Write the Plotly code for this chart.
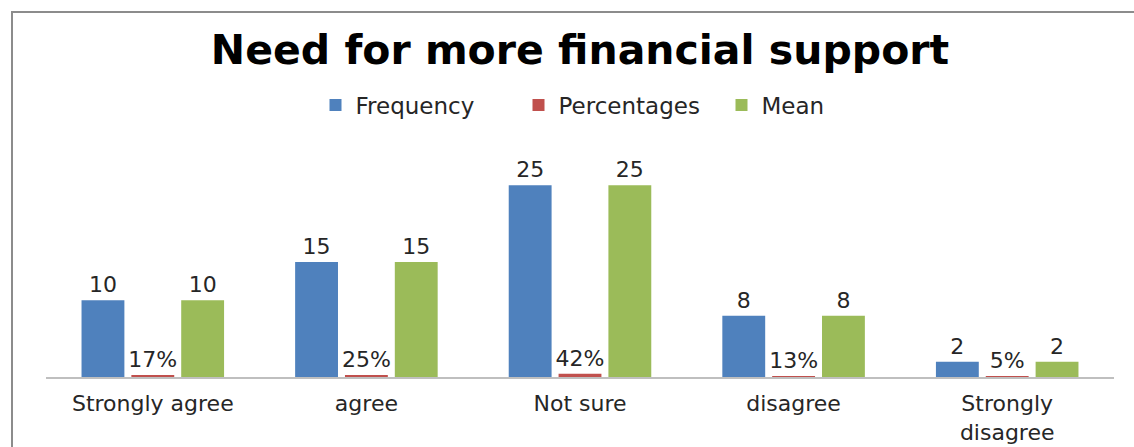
import plotly.graph_objects as go

categories = ["Strongly agree", "agree", "Not sure", "disagree", "Strongly<br>disagree"]
frequency = [10, 15, 25, 8, 2]
percentages = [0.17, 0.25, 0.42, 0.13, 0.05]
mean = [10, 15, 25, 8, 2]

FONT = "DejaVu Sans"
TEXT_COLOR = "#262626"

W, H = 1134, 447
ML, MR, MT, MB = 46, 20, 147, 70
PW = W - ML - MR
PH = H - MT - MB


def px_x(p):
    return (p - ML) / PW


def px_y(p):
    return (H - MB - p) / PH


fig = go.Figure()
fig.add_trace(go.Bar(
    name="Frequency", x=categories, y=frequency,
    marker=dict(color="#4F81BD"),
    text=frequency, texttemplate="%{y}", textposition="outside",
))
fig.add_trace(go.Bar(
    name="Percentages", x=categories, y=percentages,
    marker=dict(color="#C0504D"),
    text=percentages, texttemplate="%{y:.0%}", textposition="outside",
))
fig.add_trace(go.Bar(
    name="Mean", x=categories, y=mean,
    marker=dict(color="#9BBB59"),
    text=mean, texttemplate="%{y}", textposition="outside",
))
fig.update_traces(
    marker_line_width=0,
    textfont=dict(family=FONT, size=22, color=TEXT_COLOR),
    constraintext="none",
    cliponaxis=False,
)

# outer chart frame
fig.add_shape(
    type="rect", xref="paper", yref="paper",
    x0=px_x(12), x1=px_x(1145), y0=px_y(460), y1=px_y(12),
    line=dict(color="#8c8c8c", width=2), fillcolor="rgba(0,0,0,0)",
)

fig.update_layout(
    width=W, height=H,
    margin=dict(l=ML, r=MR, t=MT, b=MB, autoexpand=False),
    paper_bgcolor="white", plot_bgcolor="white",
    barmode="group", bargap=0.3, bargroupgap=0.14,
    title=dict(
        text="<b>Need for more financial support</b>",
        font=dict(family=FONT, size=41, color="black"),
        xref="paper", x=0.5, xanchor="center", y=1 - 50 / H, yanchor="middle",
    ),
    legend=dict(
        orientation="h", x=px_x(620), xanchor="center",
        y=px_y(105), yanchor="middle",
        font=dict(family=FONT, size=23, color=TEXT_COLOR),
        traceorder="normal",
        entrywidth=158, entrywidthmode="pixels",
    ),
    showlegend=True,
    xaxis=dict(
        automargin=False,
        showline=True, linecolor="#bfbfbf", linewidth=2,
        ticks="", tickfont=dict(family=FONT, size=22, color=TEXT_COLOR),
        ticklabelstandoff=6,
    ),
    yaxis=dict(
        automargin=False,
        range=[0, 30], showgrid=False, zeroline=False,
        showticklabels=False, showline=False,
    ),
)

fig.write_html("out.html")
